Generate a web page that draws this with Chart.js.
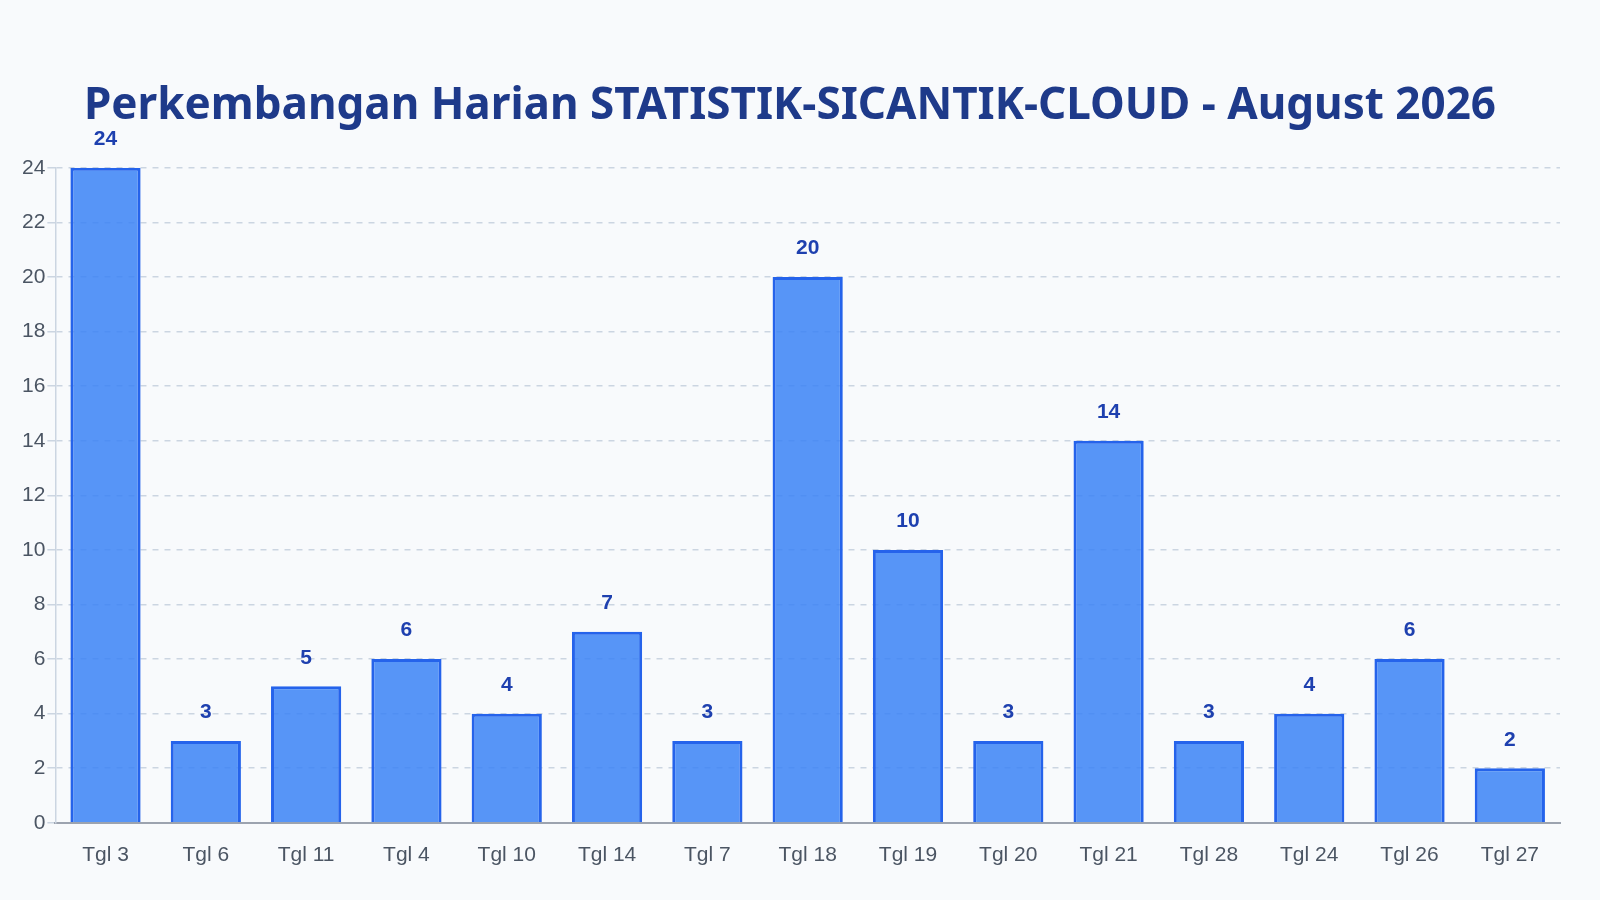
<!DOCTYPE html>
<html><head><meta charset="utf-8">
<script src="https://cdn.jsdelivr.net/npm/chart.js@4/dist/chart.umd.min.js"></script>
<style>html,body{margin:0;padding:0;background:#f8fafc;}#w{width:1600px;height:900px;}</style>
</head><body><div id="w"><canvas id="c" width="1600" height="900"></canvas></div>
<script>
const categories = ["Tgl 3","Tgl 6","Tgl 11","Tgl 4","Tgl 10","Tgl 14","Tgl 7","Tgl 18","Tgl 19","Tgl 20","Tgl 21","Tgl 28","Tgl 24","Tgl 26","Tgl 27"];
const values = [24,3,5,6,4,7,3,20,10,3,14,3,4,6,2];
const titleText = "Perkembangan Harian STATISTIK-SICANTIK-CLOUD - August 2026";

const labelPlugin = {
  id: 'vlabels',
  afterDatasetsDraw(chart) {
    const ctx = chart.ctx;
    const meta = chart.getDatasetMeta(0);
    ctx.save();
    ctx.font = 'bold 21px "Liberation Sans", Arial, sans-serif';
    ctx.fillStyle = '#1e40af';
    ctx.textAlign = 'center';
    ctx.textBaseline = 'bottom';
    meta.data.forEach((bar, i) => {
      ctx.fillText(String(values[i]), bar.x, bar.y - 18);
    });
    ctx.restore();
  }
};

new Chart(document.getElementById('c'), {
  type: 'bar',
  data: { labels: categories, datasets: [{
    data: values,
    backgroundColor: 'rgba(59,130,246,0.85)',
    borderColor: '#2563eb',
    borderWidth: 3,
    barPercentage: 0.7,
    categoryPercentage: 1.0
  }]},
  options: {
    responsive: false, animation: false,
    layout: { padding: { top: 80, right: 40, left: 20, bottom: 20 } },
    plugins: {
      legend: { display: false },
      tooltip: { enabled: false },
      title: { display: true, text: titleText, color: '#1e3a8a',
        font: { family: '"Noto Sans", sans-serif', size: 44, weight: 'bold' },
        padding: { top: 0, bottom: 35 } }
    },
    scales: {
      x: {
        grid: { display: false },
        border: { color: '#9ca3af', width: 2 },
        ticks: { color: '#4b5563', font: { family: '"Liberation Sans", Arial, sans-serif', size: 21 }, padding: 12 }
      },
      y: {
        min: 0, max: 24,
        ticks: { stepSize: 1, color: '#4b5563', font: { family: '"Liberation Sans", Arial, sans-serif', size: 21 }, padding: 2 },
        grid: { color: '#cbd5e1', lineWidth: 1.5, tickLength: 8 },
        border: { color: '#cbd5e1', width: 1.5, dash: [6, 6] }
      }
    }
  },
  plugins: [labelPlugin]
});
</script></body></html>
